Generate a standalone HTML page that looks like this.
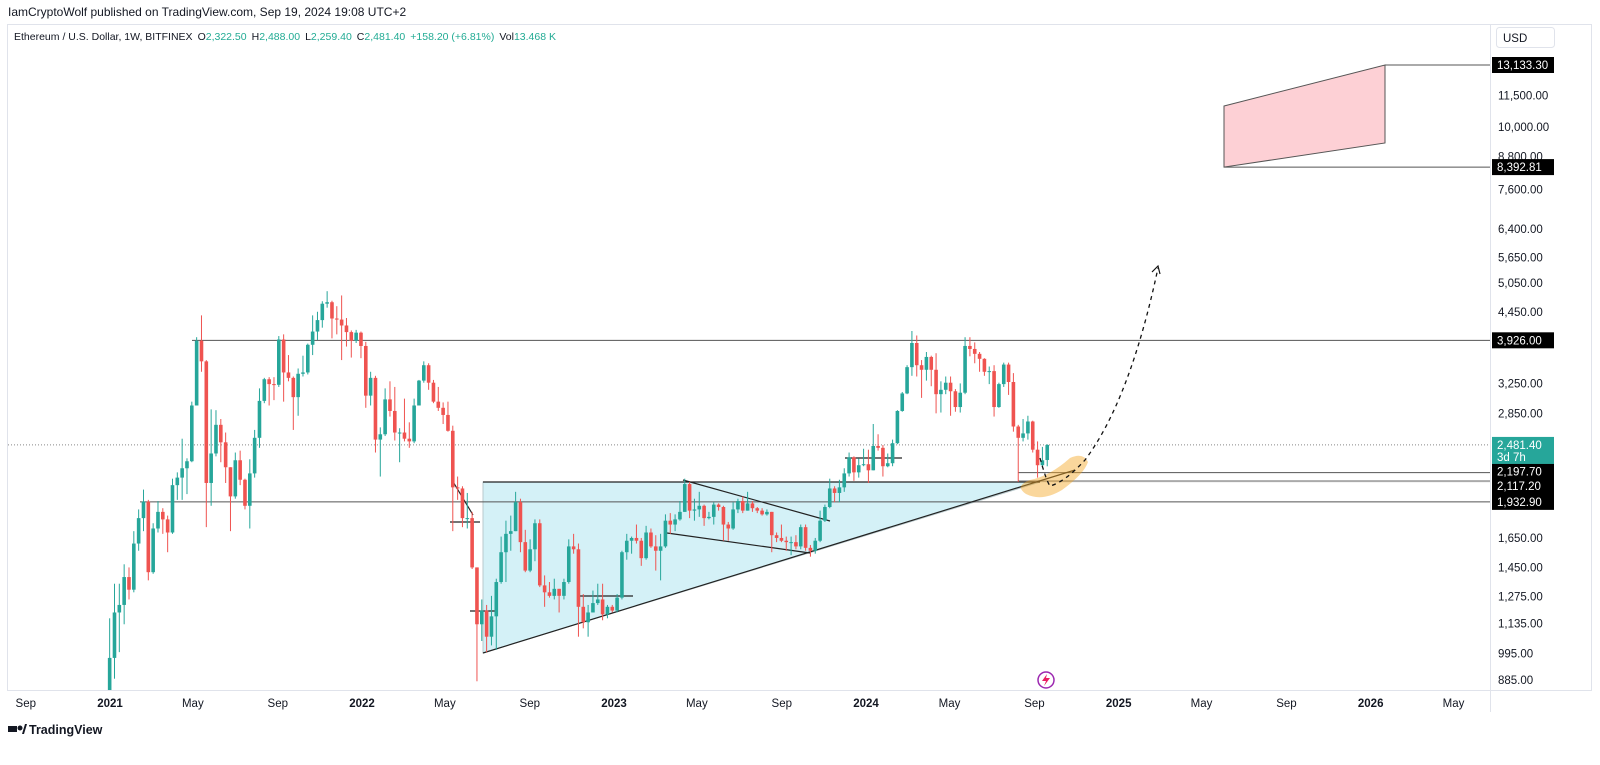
<!DOCTYPE html>
<html><head><meta charset="utf-8"><style>
body{margin:0;background:#fff;font-family:"Liberation Sans",sans-serif;}
svg text{font-family:"Liberation Sans",sans-serif;}
</style></head><body>
<svg id="c" width="1600" height="760" viewBox="0 0 1600 760" xmlns="http://www.w3.org/2000/svg">
<rect x="0" y="0" width="1600" height="760" fill="#fff"/>
<text x="8" y="16" font-size="12" fill="#131722">IamCryptoWolf published on TradingView.com, Sep 19, 2024 19:08 UTC+2</text>
<rect x="7.5" y="24.5" width="1584" height="666" fill="none" stroke="#e0e3eb"/>
<text x="14" y="40" font-size="10.5" fill="#131722">Ethereum / U.S. Dollar, 1W, BITFINEX<tspan dx="5">O</tspan><tspan fill="#22ab94">2,322.50</tspan><tspan dx="5">H</tspan><tspan fill="#22ab94">2,488.00</tspan><tspan dx="5">L</tspan><tspan fill="#22ab94">2,259.40</tspan><tspan dx="5">C</tspan><tspan fill="#22ab94">2,481.40</tspan><tspan dx="5" fill="#22ab94">+158.20 (+6.81%)</tspan><tspan dx="5">Vol</tspan><tspan fill="#22ab94">13.468 K</tspan></text>
<line x1="1490.5" y1="25" x2="1490.5" y2="712" stroke="#e0e3eb"/>
<line x1="8" y1="690.5" x2="1592" y2="690.5" stroke="#e0e3eb"/>
<rect x="1496.5" y="27.5" width="58" height="20" rx="3" fill="#fff" stroke="#e0e3eb"/>
<text x="1503" y="42" font-size="11.5" fill="#131722">USD</text>
<g id="draw"></g>
<g id="candles"></g>
<g id="axes"></g>
<g>
<rect x="8" y="726" width="9" height="6" fill="#131722"/><circle cx="20" cy="728" r="2.5" fill="#131722"/><path d="M22 734 L25 724 L27 724 L24 734 Z" fill="#131722"/>
<text x="29" y="734" font-size="12.5" font-weight="bold" fill="#131722">TradingView</text>
</g>
<g><circle cx="1046" cy="680" r="8" fill="none" stroke="#9c27b0" stroke-width="1.5"/><path d="M1047 674 L1042 681 L1046 681 L1044 686 L1050 678 L1046 678 Z" fill="#e91e63"/></g>
</svg>
<script>
const closes=[975,1190,1230,1390,1315,1610,1800,1935,1420,1720,1850,1790,1690,2080,2150,2240,2310,2950,3920,3580,2100,2390,2710,2510,2250,1980,2320,2130,1900,2190,2560,3010,3310,3240,3230,3940,3410,3330,3060,3390,3410,3850,4080,4290,4610,4640,4320,4300,4190,4070,3920,4060,3830,
3080,3330,2540,2600,3030,2880,2620,2620,2550,2520,2950,3290,3520,3260,3000,2920,2830,2640,2060,2050,1800,1800,1450,1130,1200,1070,1170,1360,1550,1680,1700,1930,1620,1430,1570,1760,1340,1300,1280,1320,1280,1360,1590,1570,1220,1140,1190,1240,1260,1180,1220,1200,
1270,1550,1630,1650,1630,1510,1690,1590,1560,1590,1780,1750,1790,1850,2090,1860,1870,1900,1800,1810,1910,1890,1750,1720,1870,1940,1860,1920,1880,1860,1830,1850,1670,1650,1630,1620,1620,1590,1730,1580,1560,1630,1780,1890,2050,2010,2060,2190,2350,2200,2270,2280,
2220,2470,2450,2260,2290,2500,2880,3110,3490,3880,3520,3450,3650,3450,3100,3160,3260,3140,2930,3120,3830,3780,3700,3620,3420,3430,2930,3240,3530,3270,2690,2560,2610,2750,2430,2270,2320,2481.4];
const highs=[1160,1350,1350,1470,1450,1700,1870,2040,1950,1760,1940,1880,1820,2140,2200,2550,2340,3000,3980,4380,3600,2900,2890,2780,2620,2250,2400,2420,2140,2330,2650,3180,3330,3340,3340,4000,4030,3680,3350,3470,3670,3870,4380,4450,4660,4870,4670,4560,4780,4330,4100,4110,4080,
3900,3420,3360,2680,3180,3280,3200,2670,3040,2740,3040,3300,3580,3550,3300,3200,2990,3000,2700,2160,2070,2010,1850,1450,1260,1230,1280,1380,1660,1780,1820,2020,1960,1710,1640,1790,1790,1400,1360,1380,1320,1380,1640,1680,1610,1290,1230,1310,1350,1350,1230,1230,
1290,1560,1680,1660,1750,1650,1740,1720,1670,1680,1830,1840,1830,1940,2140,2110,1960,2020,1910,1850,1930,1920,1900,1770,1930,1960,1980,2020,1940,1890,1880,1870,1850,1690,1750,1660,1660,1670,1750,1750,1600,1650,1860,1910,2140,2070,2130,2240,2400,2360,2340,2440,
2430,2720,2600,2480,2390,2540,2890,3130,3520,4090,4010,3600,3730,3670,3710,3280,3350,3350,3170,3250,3980,3980,3890,3730,3630,3500,3520,3260,3560,3560,3400,2710,2780,2820,2760,2520,2460,2488];
const lows=[715,890,1000,1130,1260,1300,1560,1700,1370,1410,1690,1680,1550,1680,1950,1950,2000,2300,2950,3420,1730,1900,2360,2300,2100,1700,1960,2080,1870,1720,2150,2450,2980,2950,3020,3200,3000,3280,2650,2820,3350,3380,3680,3930,4150,4530,3960,4030,3600,3820,3640,3880,3630,
2920,2950,2400,2160,2580,2810,2530,2300,2520,2450,2500,2950,3260,3160,2980,2880,2720,2630,1700,1950,1730,1720,1440,880,1050,1000,1030,1010,1350,1360,1560,1700,1550,1420,1420,1490,1330,1220,1270,1260,1190,1260,1350,1540,1070,1110,1070,1190,1230,1150,1160,1190,
1190,1260,1500,1540,1610,1460,1500,1580,1430,1370,1580,1680,1700,1780,1850,1800,1780,1810,1740,1790,1750,1860,1630,1630,1710,1840,1840,1860,1850,1840,1820,1820,1550,1620,1620,1560,1530,1570,1570,1560,1520,1540,1620,1770,1880,1930,1930,2020,2160,2120,2150,2260,
2100,2220,2420,2160,2250,2260,2490,2870,3100,3360,3350,3050,3290,3210,2850,2860,3100,2820,2870,2860,3100,3660,3550,3420,3360,3240,2810,2920,3200,3090,2630,2110,2520,2540,2400,2150,2250,2259.4];
const firstOpen=737, lastOpen=2322.5;
const priceTicks=[11500,10000,8800,7600,6400,5650,5050,4450,3250,2850,1650,1450,1275,1135,995,885];
const timeLabels=["Sep","2021","May","Sep","2022","May","Sep","2023","May","Sep","2024","May","Sep","2025","May","Sep","2026","May"];
const timeDays=[-122,0,120,243,365,485,608,730,850,973,1095,1216,1339,1461,1581,1704,1826,1946];
const levels=[13133.30,8392.81,3926.00,2197.70,2117.20,1932.90];

const NS="http://www.w3.org/2000/svg";
function y(p){return 65+(Math.log(13133.3)-Math.log(p))*228;}
function xd(d){return 110+d*252/365;}
function mk(t,a,parent){const e=document.createElementNS(NS,t);for(const k in a)e.setAttribute(k,a[k]);parent.appendChild(e);return e;}
const draw=document.getElementById('draw'),cg=document.getElementById('candles'),ax=document.getElementById('axes');

let e;
e=mk('polygon',{points:'483,482 483,653 1040,482',fill:'#d4f1f7',stroke:'#b8c9cc','stroke-width':1},draw);


e=mk('polygon',{points:`1224,106 1385,${y(13133.3)} 1385,143 1224,${y(8392.81)}`,fill:'#fdd0d5',stroke:'#555','stroke-width':1},draw);


e=mk('line',{x1:8,x2:1490,y1:y(2481.4),y2:y(2481.4),stroke:'#888','stroke-dasharray':'1,2','stroke-width':1},draw);


const lineStarts=[1385,1224,192,1018,1018,140];
levels.forEach((v,i)=>{
 e=mk('line',{x1:lineStarts[i],x2:1490,y1:y(v),y2:y(v),stroke:i==4?'#aaa':'#555','stroke-width':i==4?2:1},draw);
 
 
});
const segs=[[483,653,1075,470],[683,480,830,521],[667,533,810,553],[845,458,902,458],[578,596,633,596],[470,611,495,611],[450,522,480,522],[452,480,473,515],[483,482,1040,482]];
segs.forEach(s=>{
 e=mk('line',{x1:s[0],y1:s[1],x2:s[2],y2:s[3],stroke:'#222','stroke-width':1.2},draw);
 
 
});
e=mk('path',{d:'M1026 494 Q1042 502 1062 490 Q1084 474 1088 462 Q1083 452 1070 458 Q1050 476 1030 480 Q1014 486 1026 494 Z',fill:'rgba(245,166,35,0.45)'},cg);



const n=closes.length;
for(let i=0;i<n;i++){
 const o=i==0?firstOpen:(i==n-1?lastOpen:closes[i-1]);
 const c=closes[i],h=highs[i],l=lows[i];
 const cx=xd(-4+i*7+3.5);
 const col=c>=o?'#26a69a':'#ef5350';
 const yl=Math.min(y(l),690),yh=y(h);
 e=mk('line',{x1:cx,x2:cx,y1:yh,y2:yl,stroke:col,'stroke-width':1},cg);
 
 
 const yt=Math.min(y(o),y(c)),yb=Math.min(Math.max(y(o),y(c)),690);
 e=mk('rect',{x:cx-1.8,y:yt,width:3.6,height:Math.max(1,yb-yt),fill:col},cg);
 
 
}
e=mk('path',{d:'M1040 458 Q1046 480 1050 486 Q1065 482 1085 460 Q1130 400 1158 268',fill:'none',stroke:'#111','stroke-width':1.3,'stroke-dasharray':'4,4'},cg);


e=mk('path',{d:'M1152 272 L1158 266 L1160 274',fill:'none',stroke:'#111','stroke-width':1.2},cg);



priceTicks.forEach(v=>{
 e=mk('text',{x:1498,y:y(v)+4,'font-size':11.5,fill:'#131722'},ax);
 e.textContent=v.toLocaleString('en-US',{minimumFractionDigits:2});
 
 
});
const labelShift=[0,0,0,-1,5,0];
levels.forEach((v,i)=>{
 const yy=y(v)+labelShift[i];
 e=mk('rect',{x:1492,y:yy-8,width:62,height:16,fill:'#000'},ax);
 
 
 e=mk('text',{x:1497,y:yy+4,'font-size':11.5,fill:'#fff'},ax);
 e.textContent=v.toLocaleString('en-US',{minimumFractionDigits:2});
 
 
});
const lp=y(2481.4);
e=mk('rect',{x:1492,y:lp-8,width:62,height:27,fill:'#26a69a'},ax);


e=mk('text',{x:1497,y:lp+4,'font-size':11.5,fill:'#fff'},ax);
e.textContent='2,481.40';


e=mk('text',{x:1497,y:lp+16,'font-size':11.5,fill:'#fff'},ax);
e.textContent='3d 7h';


timeLabels.forEach((t,i)=>{
 const yr=/^\d{4}$/.test(t);
 e=mk('text',{x:xd(timeDays[i]),y:707,'font-size':11.5,fill:'#131722','text-anchor':'middle','font-weight':yr?'bold':'normal'},ax);
 e.textContent=t;
 
 
});
</script>
</body></html>
